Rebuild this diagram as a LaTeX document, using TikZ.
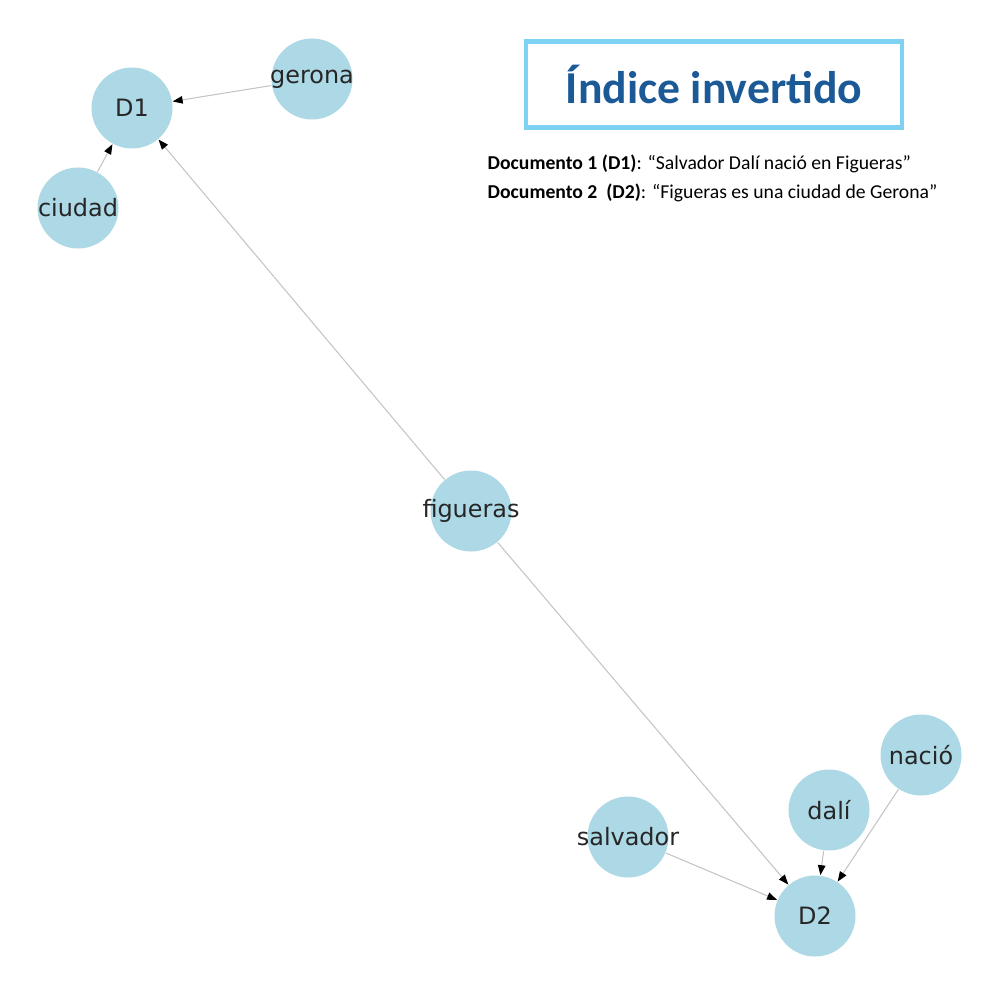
\documentclass[tikz,border=0pt]{standalone}
\usepackage{fontspec}
\setmainfont{Carlito}
\newfontfamily\dejavu{DejaVu Sans}
\usetikzlibrary{arrows.meta,positioning}
\definecolor{nodeblue}{HTML}{ADD8E6}
\definecolor{edgegray}{HTML}{C4C4C4}
\definecolor{framecyan}{HTML}{7FD1F4}
\definecolor{titleblue}{HTML}{1B5A97}

\begin{document}
\begin{tikzpicture}[x=1cm,y=-1cm,
		word/.style={circle,fill=nodeblue,minimum size=0.81cm,inner sep=0pt,
			label={[font=\dejavu\fontsize{6.8}{8}\selectfont,text=black!85]center:#1}},
		link/.style={draw=edgegray,line width=0.3pt,
			-{Triangle[length=0.1cm,width=0.075cm,color=black]}}]
		\useasboundingbox (0,0) rectangle (10,10);
		%% documentos
		\node[word=D1] (D1) at (1.32,1.08) {};
		\node[word=D2] (D2) at (8.15,9.16) {};
		%% terminos
		\node[word=gerona]   (gerona)   at (3.12,0.79) {};
		\node[word=ciudad]   (ciudad)   at (0.78,2.08) {};
		\node[word=figueras] (figueras) at (4.71,5.11) {};
		\node[word=salvador] (salvador) at (6.28,8.37) {};
		\node[word=dalí]     (dali)     at (8.29,8.10) {};
		\node[word=nació]    (nacio)    at (9.21,7.55) {};
		%%
		\draw[link] (gerona)--(D1);
		\draw[link] (ciudad)--(D1);
		\draw[link] (figueras)--(D1);
		\draw[link] (figueras)--(D2);
		\draw[link] (salvador)--(D2);
		\draw[link] (dali)--(D2);
		\draw[link] (nacio)--(D2);
		%% titulo
		\node[draw=framecyan,line width=1.4pt,minimum width=3.76cm,minimum height=0.86cm,
			text=titleblue,font=\bfseries\fontsize{13}{15}\selectfont] (title) at (7.14,0.845) {Índice invertido};
		\node[anchor=north west,align=left,inner sep=0pt,font=\fontsize{5.6}{8.2}\selectfont] (docs) at (4.87,1.54)
			{\textbf{Documento 1 (D1)}: “Salvador Dalí nació en Figueras”\\
			 \textbf{Documento 2~ (D2)}: “Figueras es una ciudad de Gerona”};
	\end{tikzpicture}
\end{document}
